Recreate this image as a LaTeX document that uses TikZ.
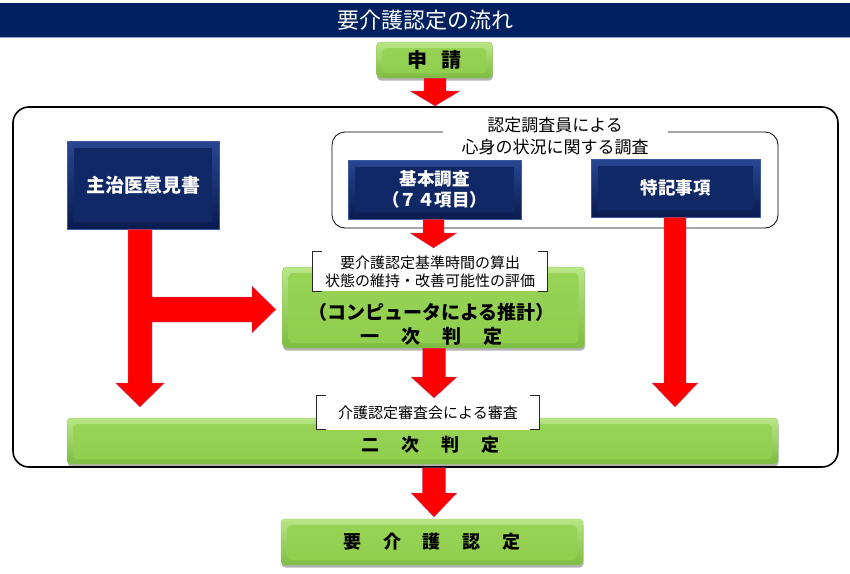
\documentclass[tikz,border=0pt]{standalone}
\usepackage{fontspec}
\setmainfont{Noto Sans CJK JP}
\usetikzlibrary{calc,shadows}
\definecolor{titlenavy}{RGB}{0,32,96}
\definecolor{titleline}{RGB}{140,165,210}
\definecolor{navytop}{RGB}{40,70,145}
\definecolor{navybot}{RGB}{10,28,80}
\definecolor{navyface}{RGB}{16,40,102}
\definecolor{navyedge}{RGB}{60,90,160}
\definecolor{greentop}{RGB}{185,230,135}
\definecolor{greenbot}{RGB}{125,188,65}
\definecolor{greenface1}{RGB}{152,212,86}
\definecolor{greenface2}{RGB}{144,206,78}
\definecolor{greenedge}{RGB}{150,200,100}
\definecolor{arrred}{RGB}{255,0,0}
\definecolor{arrowedge}{RGB}{150,110,170}
\newcommand{\sz}[2]{\fontsize{#1}{#2}\selectfont}
\newcommand{\gapc}{\hspace{22pt}}
\newcommand{\blockdown}[5]{%
  \path[redarrow] let \p1=(#1), \p2=(#2) in
    (\x2-#3,\y1) -- (\x2+#3,\y1) -- (\x2+#3,\y2+#5) -- (\x2+#4,\y2+#5) -- (\p2)
    -- (\x2-#4,\y2+#5) -- (\x2-#3,\y2+#5) -- cycle;}
\tikzset{
  navybox/.style={rectangle, draw=navyedge, line width=0.5pt, top color=navytop, bottom color=navybot,
    path picture={\fill[navyface] ($(path picture bounding box.north west)+(7pt,-7pt)$) rectangle ($(path picture bounding box.south east)+(-7pt,7pt)$);},
    text=white, align=center, inner sep=0pt},
  greenbox/.style={rectangle, rounded corners=4pt, draw=greenedge, line width=0.4pt, top color=greentop, bottom color=greenbot,
    path picture={\shade[top color=greenface1, bottom color=greenface2] ($(path picture bounding box.north west)+(6pt,-6pt)$) rectangle ($(path picture bounding box.south east)+(-6pt,5pt)$);},
    drop shadow={shadow xshift=0.5pt, shadow yshift=-2.5pt, opacity=0.3, fill=black},
    inner sep=0pt, align=center},
  bracketbox/.style={fill=white, inner sep=0pt, align=center},
  bracketline/.style={draw=black!85, line width=0.8pt},
  redarrow/.style={fill=arrred, draw=arrowedge, line width=0.3pt},
  framebox/.style={draw=black, line width=1.6pt, rounded corners=16pt, inner sep=0pt},
}
\begin{document}
\begin{tikzpicture}[x=1pt,y=-1pt]
\useasboundingbox (0,0) rectangle (850,573);
\fill[white] (0,0) rectangle (850,573);
% title
\node[fill=titlenavy, minimum width=850pt, minimum height=34pt, inner sep=0pt, text=white, font=\sz{22}{26}] (title) at (425,20) {要介護認定の流れ};
\draw[titleline, line width=1pt] (title.south west) -- (title.south east);
% frame
\node[framebox, minimum width=825pt, minimum height=360pt] (frame) at (425.5,287) {};
% apply
\node[greenbox, minimum width=116pt, minimum height=36pt, font=\bfseries\sz{20}{24}] (apply) at (434.5,60) {申\hspace{14pt}請};
\coordinate (t1) at (435,106);
\blockdown{apply.south}{t1}{11pt}{25pt}{15pt}
% doctor
\node[navybox, minimum width=152pt, minimum height=88pt, font=\bfseries\sz{19}{23}] (doctor) at (143,185) {主治医意見書};
% investigator group
\node[draw=black, rounded corners=13pt, line width=0.8pt, minimum width=446pt, minimum height=96pt, inner sep=0pt] (inv) at (555,180) {};
\node[fill=white, inner xsep=19pt, inner ysep=1pt, align=center, font=\sz{17}{22}] (invtext) at (555,136) {認定調査員による\\心身の状況に関する調査};
\node[navybox, minimum width=173pt, minimum height=59pt, font=\bfseries\sz{17.5}{21}] (basic) at (434.5,189.5) {基本調査\\（７４項目）};
\node[navybox, minimum width=169pt, minimum height=58pt, font=\bfseries\sz{17.5}{21}] (special) at (675.5,188) {特記事項};
% first judgement
\node[greenbox, minimum width=302pt, minimum height=81pt] (first) at (433.5,307.5) {};
\node[font=\bfseries\sz{19}{24}, align=center, inner sep=0pt] (firsttext) at (431.5,324.5) {（コンピュータによる推計）\\一\gapc 次\gapc 判\gapc 定};
\node[bracketbox, minimum width=234pt, minimum height=39pt, font=\sz{15}{18}] (note1) at (430,271.5) {要介護認定基準時間の算出\\状態の維持・改善可能性の評価};
\draw[bracketline] ([xshift=9pt]note1.north west) -- (note1.north west) -- (note1.south west) -- ([xshift=9pt]note1.south west);
\draw[bracketline] ([xshift=-9pt]note1.north east) -- (note1.north east) -- (note1.south east) -- ([xshift=-9pt]note1.south east);
\coordinate (t2) at (433.5,248);
\blockdown{basic.south}{t2}{10.5pt}{23.5pt}{15pt}
% left T arrow
\coordinate (ltip) at (140,407);
\coordinate (htip) at (276,309.5);
\path[redarrow] let \p1=(doctor.south), \p2=(ltip), \p3=(htip) in
  (\x2-12pt,\y1) -- (\x2+12pt,\y1) -- (\x2+12pt,\y3+12.5pt) -- (\x3-24pt,\y3+12.5pt) -- (\x3-24pt,\y3+23.5pt)
  -- (\p3) -- (\x3-24pt,\y3-23.5pt) -- (\x3-24pt,\y3-12.5pt) -- (\x2+12pt,\y3-12.5pt) -- (\x2+12pt,\y2+24pt)
  -- (\x2+24.5pt,\y2+24pt) -- (\p2) -- (\x2-24.5pt,\y2+24pt) -- (\x2-12pt,\y2+24pt) -- cycle;
% right arrow
\coordinate (rtip) at (675,407);
\blockdown{special.south}{rtip}{11pt}{23pt}{24pt}
% second judgement
\node[greenbox, minimum width=711pt, minimum height=46pt] (second) at (422.5,441) {};
\node[font=\bfseries\sz{18}{22}, inner sep=0pt] (secondtext) at (430.5,445) {二\gapc 次\gapc 判\gapc 定};
\node[bracketbox, minimum width=222pt, minimum height=34pt, font=\sz{15}{18}] (note2) at (428,412.5) {介護認定審査会による審査};
\draw[bracketline] ([xshift=9pt]note2.north west) -- (note2.north west) -- (note2.south west) -- ([xshift=9pt]note2.south west);
\draw[bracketline] ([xshift=-9pt]note2.north east) -- (note2.north east) -- (note2.south east) -- ([xshift=-9pt]note2.south east);
\coordinate (t3) at (434,398);
\blockdown{first.south}{t3}{11.5pt}{23pt}{21pt}
% final
\node[greenbox, minimum width=302pt, minimum height=46pt, font=\bfseries\sz{18}{22}] (final) at (432,542) {要\gapc 介\gapc 護\gapc 認\gapc 定};
\coordinate (t4) at (434,517);
\blockdown{frame.south}{t4}{11.7pt}{23pt}{24pt}
\end{tikzpicture}
\end{document}
